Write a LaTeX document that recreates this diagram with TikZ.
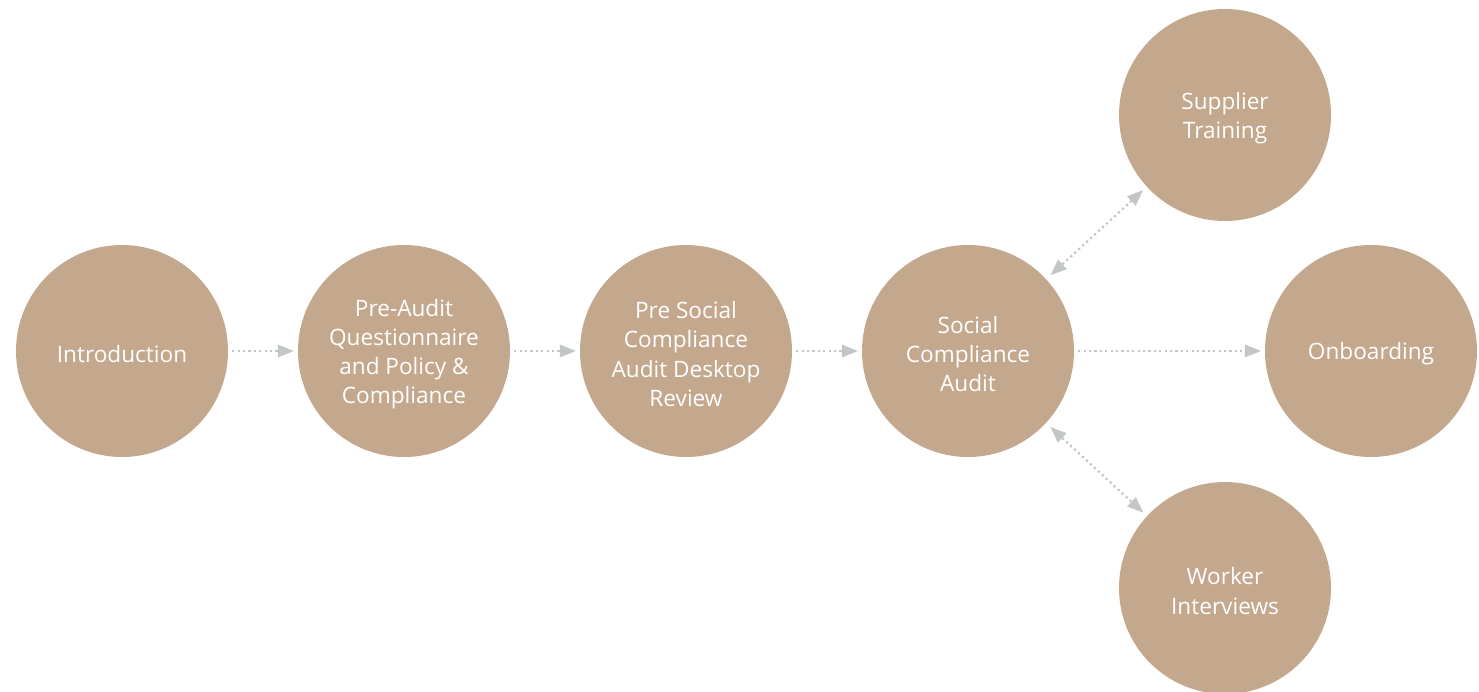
\documentclass[tikz,border=0pt]{standalone}
\usepackage{fontspec}
\setmainfont{Open Sans}
\usetikzlibrary{arrows.meta}
\definecolor{stepfill}{HTML}{C4A88D}
\definecolor{linkgray}{HTML}{C3C6C6}
\begin{document}
\begin{tikzpicture}[x=1pt,y=-1pt,
  stage/.style={circle,fill=stepfill,draw=none,minimum size=212pt,inner sep=0pt,
    label={[text=white,align=center,font=\fontsize{22.6}{29.2}\selectfont,yshift=-3pt]center:#1}},
  tip/.style={Triangle[length=16pt,width=13pt,fill=linkgray,line width=0pt]},
  link/.style={draw=linkgray,line width=2.2pt,dash pattern=on 2.2pt off 3.2pt,
    -{Triangle[length=16pt,width=13pt,fill=linkgray,line width=0pt]},shorten <=4pt,shorten >=4pt},
  blink/.style={link,{Triangle[length=16pt,width=13pt,fill=linkgray,line width=0pt]}-{Triangle[length=16pt,width=13pt,fill=linkgray,line width=0pt]},shorten <=6pt,shorten >=5pt}]
\useasboundingbox (0,0) rectangle (1479,691);
\clip (0,0) rectangle (1479,691);
\node[stage={Introduction}] (intro) at (122,351) {};
\node[stage={Pre-Audit\\Questionnaire\\and Policy \&\\Compliance}] (pre) at (404,351) {};
\node[stage={Pre Social\\Compliance\\Audit Desktop\\Review}] (desk) at (686,351) {};
\node[stage={Social\\Compliance\\Audit}] (audit) at (968,351) {};
\node[stage={Onboarding}] (onb) at (1371,351) {};
\node[stage={Supplier\\Training}] (sup) at (1225,115) {};
\node[stage={Worker\\Interviews}] (work) at (1225,588) {};
\draw[link] (intro) -- (pre);
\draw[link] (pre) -- (desk);
\draw[link] (desk) -- (audit);
\draw[link] (audit) -- (onb);
\draw[blink] (audit) -- (sup);
\draw[blink] (audit) -- (work);
\end{tikzpicture}
\end{document}
